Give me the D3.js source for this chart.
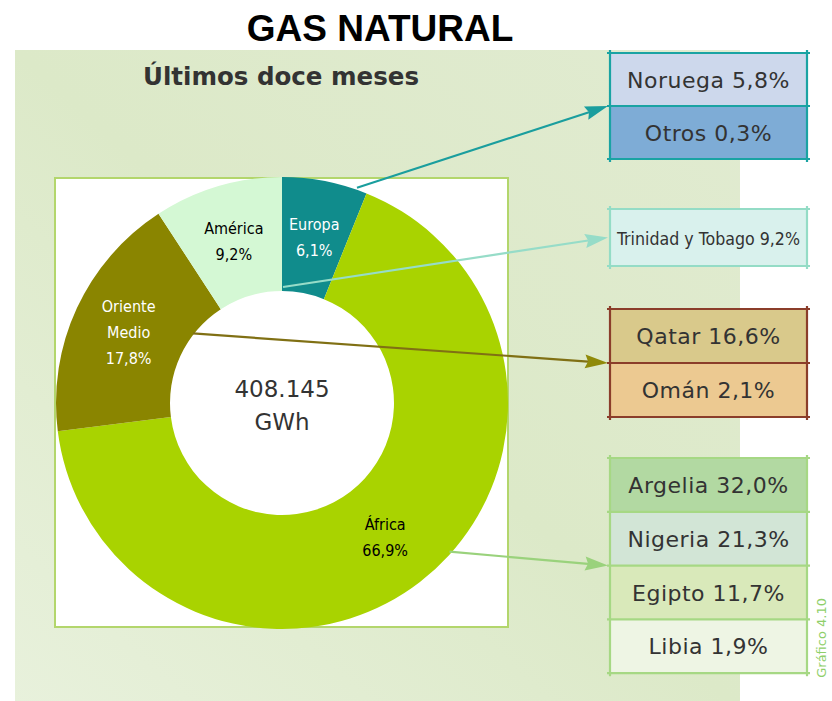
<!DOCTYPE html>
<html>
<head>
<meta charset="utf-8">
<script src="https://cdn.jsdelivr.net/npm/d3@7"></script>
<style>
  body { margin: 0; background: #fff; }
  text { font-family: 'DejaVu Sans', sans-serif; }
</style>
</head>
<body>
<svg id="chart" width="832" height="701"></svg>
<script>
// regions of origin (donut), clockwise from 12 o'clock
const regions = ['Europa', 'África', 'Oriente Medio', 'América'];
const regionShares = [6.1, 66.9, 17.8, 9.2];
const totalLabel = ['408.145', 'GWh'];

// country breakdown boxes, one group per region
const groupRegion = ['Europa', 'América', 'Oriente Medio', 'África'];
const groupCountries = [['Noruega', 'Otros'], ['Trinidad y Tobago'], ['Qatar', 'Omán'], ['Argelia', 'Nigeria', 'Egipto', 'Libia']];
const groupShares = [[5.8, 0.3], [9.2], [16.6, 2.1], [32.0, 21.3, 11.7, 1.9]];

const sliceColors = ['#108c8c', '#a9d300', '#8a8500', '#d4f8d4'];
const sliceText = ['#fff', '#000', '#fff', '#000'];
const groupStroke = ['#1aa3a3', '#94dcc6', '#8b3d2a', '#a6d884'];
const groupFill = [['#cdd8ec', '#7eacd6'], ['#d9f1ed'], ['#d9c98b', '#ecc991'], ['#b2d9a2', '#d2e5d6', '#d9e9ba', '#eef5e4']];
const groupTop = [53, 209, 309, 458];
const groupRowH = [53, 57, 54, 53.8];
const arrowColor = ['#1a9e9e', '#96dcc8', '#807014', '#9ad27c'];
const headColor = ['#1a9e9e', '#96dcc8', '#8f8a0a', '#9ad27c'];
// where each arrow leaves the donut: angle (deg, clockwise from top) and radius
const arrowStartDeg = [19.2, 0.5, 308, 131.6];
const arrowStartR = [228, 116, 113, 224];

const fmt = (v) => d3.format('.1f')(v).replace('.', ',') + '%';

const svg = d3.select('#chart');

// background panel
const grad = svg.append('defs').append('linearGradient')
  .attr('id', 'bg').attr('x1', 0).attr('y1', 1).attr('x2', 1).attr('y2', 0);
grad.append('stop').attr('offset', 0).attr('stop-color', '#e8f1dc');
grad.append('stop').attr('offset', 0.5).attr('stop-color', '#dce9c8');
grad.append('stop').attr('offset', 1).attr('stop-color', '#e1ebd1');

svg.append('rect')
  .attr('x', 15).attr('y', 50).attr('width', 725).attr('height', 660)
  .attr('fill', 'url(#bg)');

svg.append('text')
  .attr('x', 380).attr('y', 41)
  .attr('text-anchor', 'middle')
  .style('font-family', "'Liberation Sans', Arial, sans-serif")
  .style('font-weight', 'bold')
  .style('font-size', '37px')
  .attr('fill', '#000')
  .text('GAS NATURAL');

svg.append('text')
  .attr('x', 281).attr('y', 85)
  .attr('text-anchor', 'middle')
  .style('font-family', "'DejaVu Sans Condensed', sans-serif")
  .style('font-weight', 'bold')
  .style('font-size', '25px')
  .attr('textLength', 276)
  .attr('lengthAdjust', 'spacingAndGlyphs')
  .attr('fill', '#333')
  .text('Últimos doce meses');

svg.append('rect')
  .attr('x', 55).attr('y', 178).attr('width', 453).attr('height', 449)
  .attr('fill', '#fff').attr('stroke', '#b3d66c').attr('stroke-width', 2);

// donut
const cx = 282, cy = 403, outerR = 226, innerR = 112;
const pie = d3.pie().sort(null).value((d) => d.value);
const arcs = pie(regions.map((r, i) => ({ name: r, value: regionShares[i], i })));
const arc = d3.arc().innerRadius(innerR).outerRadius(outerR);

const donut = svg.append('g').attr('transform', `translate(${cx}, ${cy})`);
donut.selectAll('path')
  .data(arcs)
  .enter()
  .append('path')
  .attr('d', arc)
  .attr('fill', (d) => sliceColors[d.data.i]);

// arrows from slices to boxes
const boxX = 610, boxW = 197;
groupCountries.forEach((names, g) => {
  const a = arrowStartDeg[g] * Math.PI / 180;
  const x0 = cx + arrowStartR[g] * Math.sin(a);
  const y0 = cy - arrowStartR[g] * Math.cos(a);
  const x1 = boxX - 2;
  const y1 = groupTop[g] + names.length * groupRowH[g] / 2;
  const ang = Math.atan2(y1 - y0, x1 - x0);
  const hl = 20, hw = 7;
  const bx = x1 - hl * Math.cos(ang), by = y1 - hl * Math.sin(ang);
  svg.append('line')
    .attr('x1', x0).attr('y1', y0).attr('x2', bx).attr('y2', by)
    .attr('stroke', arrowColor[g]).attr('stroke-width', 2.2);
  svg.append('path')
    .attr('d', d3.line()([
      [x1, y1],
      [bx - hw * Math.sin(ang) - 3 * Math.cos(ang), by + hw * Math.cos(ang) - 3 * Math.sin(ang)],
      [bx, by],
      [bx + hw * Math.sin(ang) - 3 * Math.cos(ang), by - hw * Math.cos(ang) - 3 * Math.sin(ang)]
    ]) + 'Z')
    .attr('fill', headColor[g]);
});

// slice labels
const labelLines = (d) => {
  const name = d.data.name;
  const parts = name === 'Oriente Medio' ? ['Oriente', 'Medio'] : [name];
  return parts.concat(fmt(d.data.value));
};
donut.selectAll('text.slice')
  .data(arcs)
  .enter()
  .append('text')
  .attr('class', 'slice')
  .attr('transform', (d) => `translate(${arc.centroid(d)})`)
  .attr('text-anchor', 'middle')
  .style('font-family', "'DejaVu Sans Condensed', sans-serif")
  .style('font-size', '16px')
  .attr('fill', (d) => sliceText[d.data.i])
  .each(function (d) {
    const lines = labelLines(d);
    const step = 26;
    d3.select(this).selectAll('tspan')
      .data(lines)
      .enter()
      .append('tspan')
      .attr('x', 0)
      .attr('y', (l, j) => (j - (lines.length - 1) / 2) * step + 6)
      .text((l) => l);
  });

donut.selectAll('text.total')
  .data(totalLabel)
  .enter()
  .append('text')
  .attr('class', 'total')
  .attr('x', 0)
  .attr('y', (d, i) => -6 + i * 33)
  .attr('text-anchor', 'middle')
  .style('font-size', '23px')
  .attr('fill', '#333')
  .text((d) => d);

// country boxes
groupCountries.forEach((names, g) => {
  const h = groupRowH[g];
  const top = groupTop[g];
  const grp = svg.append('g');
  names.forEach((n, j) => {
    grp.append('rect')
      .attr('x', boxX).attr('y', top + j * h).attr('width', boxW).attr('height', h)
      .attr('fill', groupFill[g][j]);
    const t = grp.append('text')
      .attr('x', boxX + boxW / 2).attr('y', top + j * h + h / 2 + 8)
      .attr('text-anchor', 'middle')
      .style('font-size', '22px')
      .style('letter-spacing', '0.5px')
      .attr('fill', '#333')
      .text(n + ' ' + fmt(groupShares[g][j]));
    if (t.node().getComputedTextLength() > boxW - 12) {
      // too long: condensed face, squeezed to fit
      t.style('letter-spacing', '0px')
        .style('font-family', "'DejaVu Sans Condensed', sans-serif")
        .style('font-size', '18px')
        .attr('y', top + j * h + h / 2 + 7);
      if (t.node().getComputedTextLength() > boxW - 12) {
        t.attr('textLength', boxW - 14).attr('lengthAdjust', 'spacingAndGlyphs');
      }
    }
  });
  const ext = 3;
  for (let j = 0; j <= names.length; j++) {
    grp.append('line')
      .attr('x1', boxX - ext).attr('x2', boxX + boxW + ext)
      .attr('y1', top + j * h).attr('y2', top + j * h)
      .attr('stroke', groupStroke[g]).attr('stroke-width', 2.2);
  }
  [boxX, boxX + boxW].forEach((x) => {
    grp.append('line')
      .attr('x1', x).attr('x2', x)
      .attr('y1', top - ext).attr('y2', top + names.length * h + ext)
      .attr('stroke', groupStroke[g]).attr('stroke-width', 2.2);
  });
});

svg.append('text')
  .attr('transform', 'translate(826, 598) rotate(-90)')
  .attr('text-anchor', 'end')
  .style('font-size', '13px')
  .attr('fill', '#8fcf6a')
  .text('Gráfico 4.10');
</script>
</body>
</html>
